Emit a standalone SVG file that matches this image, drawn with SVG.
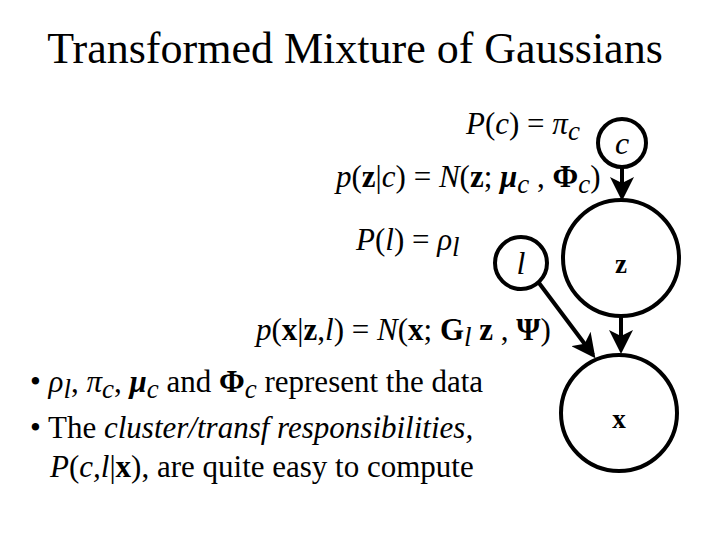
<svg xmlns="http://www.w3.org/2000/svg" width="720" height="540" viewBox="0 0 720 540">
<style>
text{font-family:"Liberation Serif",serif;fill:#000}
.n{fill:none;stroke:#000;stroke-width:4}
.e{stroke:#000;stroke-width:4;fill:none;marker-end:url(#a)}
.t{font-size:31px}
.s{font-style:italic;font-size:27px}
</style>
<defs><marker id="a" markerWidth="6" markerHeight="6" refX="5" refY="3" orient="auto" markerUnits="strokeWidth"><path d="M0,0 L6,3 L0,6 L1.5,3 z" fill="#000"/></marker></defs>
<rect width="720" height="540" fill="#fff"/>
<text x="355" y="63" font-size="44" text-anchor="middle">Transformed Mixture of Gaussians</text>
<text class="t" x="466" y="134"><tspan font-style="italic">P</tspan>(<tspan font-style="italic">c</tspan>) = <tspan font-style="italic">π</tspan><tspan class="s" dy="6">c</tspan></text>
<text class="t" x="336" y="187"><tspan font-style="italic">p</tspan>(<tspan font-weight="bold">z</tspan>|<tspan font-style="italic">c</tspan>) = <tspan font-style="italic">N</tspan>(<tspan font-weight="bold">z</tspan>; <tspan font-weight="bold" font-style="italic">μ</tspan><tspan class="s" dy="6">c</tspan><tspan dy="-6"> , </tspan><tspan font-weight="bold">Φ</tspan><tspan class="s" dy="6">c</tspan><tspan dy="-6">)</tspan></text>
<text class="t" x="356" y="250"><tspan font-style="italic">P</tspan>(<tspan font-style="italic">l</tspan>) = <tspan font-style="italic">ρ</tspan><tspan class="s" dy="6">l</tspan></text>
<text class="t" x="256" y="340"><tspan font-style="italic">p</tspan>(<tspan font-weight="bold">x</tspan>|<tspan font-weight="bold">z</tspan>,<tspan font-style="italic">l</tspan>) = <tspan font-style="italic">N</tspan>(<tspan font-weight="bold">x</tspan>; <tspan font-weight="bold">G</tspan><tspan class="s" dy="6">l</tspan><tspan dy="-6" font-weight="bold"> z</tspan><tspan> , </tspan><tspan font-weight="bold">Ψ</tspan>)</text>
<text class="t" x="30" y="392">• <tspan font-style="italic">ρ</tspan><tspan class="s" dy="6">l</tspan><tspan dy="-6">, </tspan><tspan font-style="italic">π</tspan><tspan class="s" dy="6">c</tspan><tspan dy="-6">, </tspan><tspan font-weight="bold" font-style="italic">μ</tspan><tspan class="s" dy="6">c</tspan><tspan dy="-6"> and </tspan><tspan font-weight="bold">Φ</tspan><tspan class="s" dy="6">c</tspan><tspan dy="-6"> represent the data</tspan></text>
<text class="t" x="30" y="438">• The <tspan font-style="italic">cluster/transf responsibilities,</tspan></text>
<text class="t" x="50" y="477"><tspan font-style="italic">P</tspan>(<tspan font-style="italic">c,l</tspan>|<tspan font-weight="bold">x</tspan>), are quite easy to compute</text>
<g id="c"><circle class="n" cx="622" cy="143" r="24"/><text x="622" y="154" font-size="32" font-style="italic" text-anchor="middle">c</text></g>
<g id="z"><circle class="n" cx="621" cy="258" r="58"/><text x="621" y="273" font-size="27" font-weight="bold" text-anchor="middle">z</text></g>
<g id="l"><circle class="n" cx="521" cy="263" r="26"/><text x="521" y="274" font-size="32" font-style="italic" text-anchor="middle">l</text></g>
<g id="x"><circle class="n" cx="619" cy="413" r="58"/><text x="619" y="428" font-size="27" font-weight="bold" text-anchor="middle">x</text></g>
<g id="edges">
<line class="e" x1="622" y1="167" x2="622" y2="197"/>
<line class="e" x1="621" y1="316" x2="621" y2="350"/>
<line class="e" x1="539" y1="283" x2="593" y2="355"/>
</g>
</svg>
